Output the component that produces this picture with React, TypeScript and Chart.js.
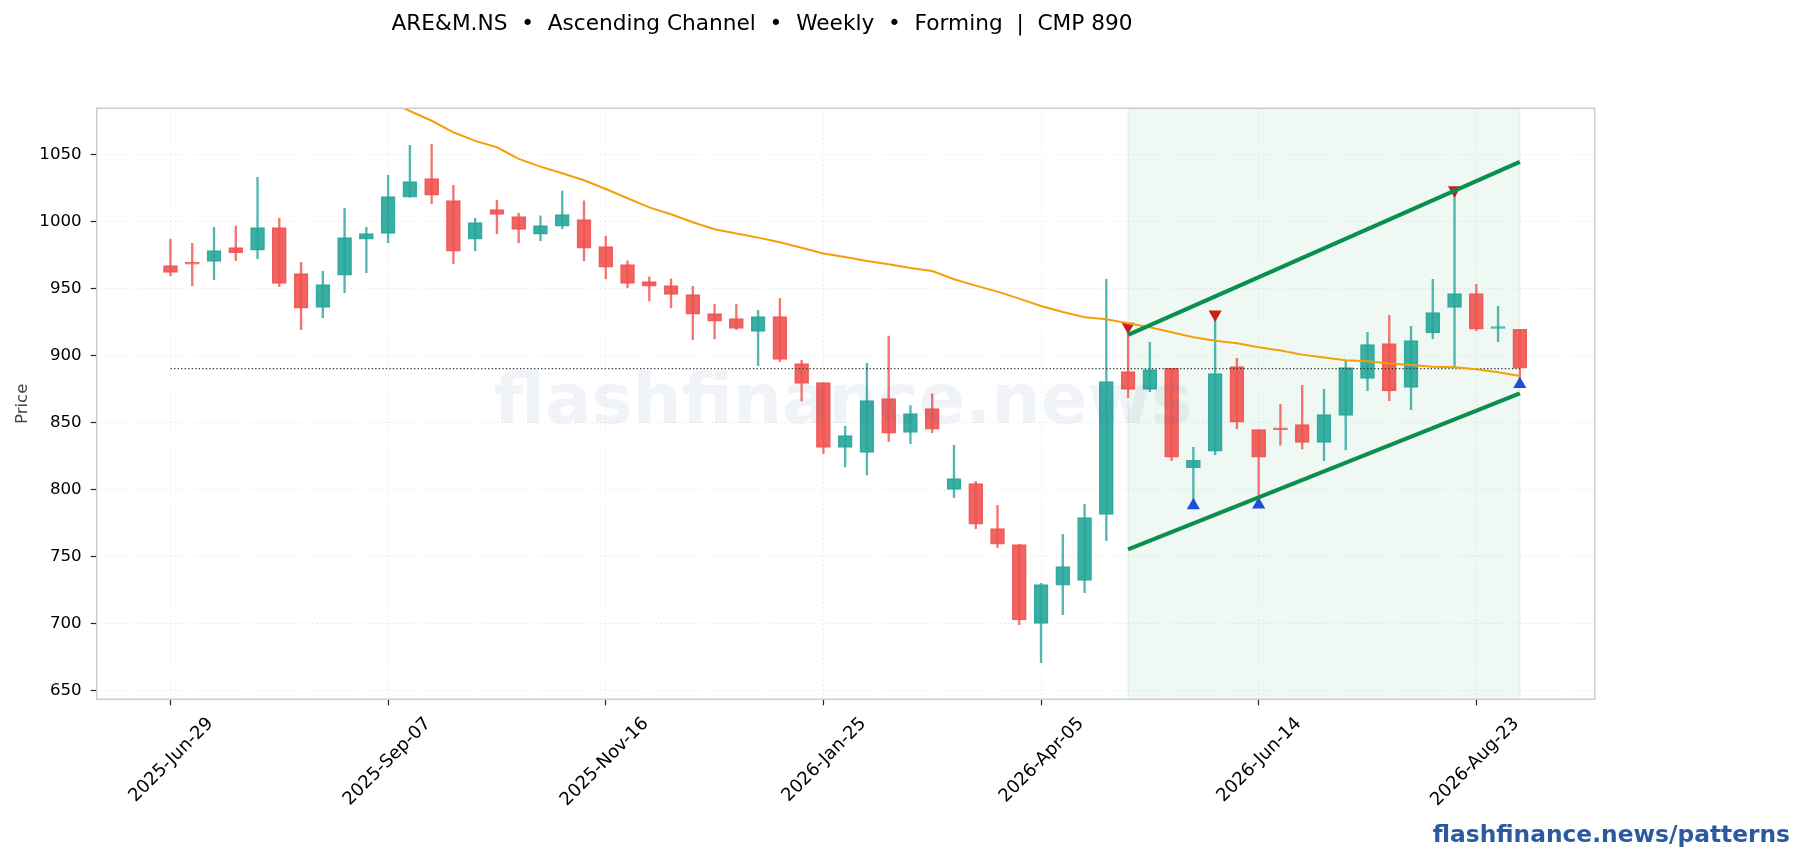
import { useEffect, useRef } from "react";
import { Chart, registerables } from "chart.js";

Chart.register(...registerables);

const FONT = "'DejaVu Sans', sans-serif";
const TEAL = "rgba(38,166,154,0.9)";
const RED = "rgba(239,83,80,0.9)";
const TEAL_WICK = "rgba(38,166,154,0.8)";
const RED_WICK = "rgba(239,83,80,0.8)";

// weekly candles
const opens = [
  966.9, 969.4, 970.1, 980.3, 978.4, 995.3, 960.9, 935.8, 959.7, 986.6, 991.0,
  1017.9, 1031.8, 1015.4, 986.6, 1008.7, 1003.5, 990.3, 996.3, 1001.2, 981.1,
  967.7, 955.0, 952.0, 945.3, 931.1, 927.4, 917.9, 928.9, 893.8, 879.6, 831.3,
  827.6, 867.7, 842.5, 860.2, 800.0, 804.2, 770.6, 758.7, 700.0, 728.4, 732.0,
  781.3, 887.8, 874.6, 890.3, 816.2, 828.4, 891.5, 844.5, 845.8, 848.3, 835.0,
  855.2, 882.8, 908.7, 876.1, 916.7, 935.8, 946.0, 920.1, 919.4,
];
const highs = [
  986.8, 983.6, 995.5, 996.5, 1032.8, 1002.2, 969.4, 962.7, 1009.7, 995.5,
  1034.3, 1056.7, 1057.5, 1026.9, 1002.2, 1015.7, 1006.0, 1004.0, 1022.6,
  1015.2, 989.0, 970.4, 958.5, 957.0, 951.5, 938.0, 938.0, 933.6, 942.5, 896.3,
  879.6, 847.0, 894.0, 914.4, 862.5, 871.3, 832.8, 806.0, 788.0, 758.9, 729.9,
  766.4, 788.8, 956.7, 922.0, 909.7, 890.3, 831.3, 929.0, 897.8, 844.5, 863.4,
  877.6, 874.6, 895.5, 917.2, 929.9, 921.6, 956.7, 1023.0, 953.0, 936.6, 919.4,
];
const lows = [
  959.5, 952.0, 956.5, 970.6, 972.1, 951.2, 919.2, 928.1, 946.8, 961.7, 984.0,
  1017.9, 1013.2, 968.4, 978.1, 990.8, 984.1, 985.6, 994.5, 970.6, 957.0, 950.2,
  940.5, 935.3, 911.7, 912.2, 919.2, 892.3, 895.3, 865.9, 826.6, 816.7, 810.7,
  835.6, 834.0, 842.3, 793.8, 770.6, 756.5, 699.0, 670.6, 706.5, 722.9, 761.7,
  868.4, 872.9, 821.4, 788.0, 825.9, 845.3, 789.0, 833.0, 830.1, 821.4, 829.4,
  873.6, 866.2, 859.5, 912.4, 891.5, 918.4, 910.2, 880.0,
];
const closes = [
  961.9, 967.9, 978.1, 976.4, 995.3, 953.7, 935.1, 952.7, 987.8, 990.8, 1018.4,
  1029.6, 1019.4, 977.6, 999.0, 1005.2, 994.0, 996.8, 1005.0, 979.9, 965.7,
  953.7, 951.5, 945.5, 930.6, 925.4, 920.1, 928.9, 897.0, 879.1, 831.3, 840.0,
  866.2, 841.8, 856.5, 844.8, 808.0, 773.9, 759.0, 702.5, 728.9, 742.3, 778.9,
  880.4, 874.6, 889.3, 823.9, 821.6, 886.3, 850.0, 823.9, 844.5, 835.0, 855.7,
  890.8, 908.0, 873.4, 910.9, 931.8, 946.0, 919.4, 921.4, 890.3,
];

// moving average, first ten weeks sit above the plot
const maValues = [
  null, null, null, null, null, null, null, null, null, null, 1090.0, 1082.3,
  1075.0, 1066.4, 1060.0, 1055.2, 1046.6, 1040.8, 1035.8, 1030.6, 1024.1,
  1017.2, 1010.4, 1005.2, 999.3, 994.0, 990.8, 987.8, 984.3, 980.3, 975.9,
  973.4, 970.4, 967.9, 965.2, 962.9, 956.7, 952.0, 947.5, 942.3, 936.8, 932.3,
  928.4, 926.9, 923.9, 920.9, 917.2, 913.4, 910.9, 909.0, 906.0, 903.5, 900.5,
  898.3, 896.3, 895.5, 893.8, 892.8, 891.5, 891.0, 889.6, 887.3, 884.6,
];

const channelWeeks = [44, 62];
const channelUpper = [915.2, 1044.3];
const channelLower = [755.2, 871.6];

const swingHighWeeks = [44, 48, 59];
const swingHighValues = [921.5, 930.5, 1023.3];
const swingLowWeeks = [47, 50, 62];
const swingLowValues = [788.0, 788.6, 878.4];

const cmp = 890;

const xTickWeeks = [0, 10, 20, 30, 40, 50, 60];
const xTickLabels = [
  "2025-Jun-29",
  "2025-Sep-07",
  "2025-Nov-16",
  "2026-Jan-25",
  "2026-Apr-05",
  "2026-Jun-14",
  "2026-Aug-23",
];
const yTicks = [650, 700, 750, 800, 850, 900, 950, 1000, 1050];

const X_MIN = -3.39;
const X_MAX = 65.44;
const Y_MIN = 643.3;
const Y_MAX = 1084.3;

const weeks = opens.map((_, i) => i);
const isUp = (i: number) => closes[i] >= opens[i];

// title, watermark, footer and the box round the axes
const decorPlugin = {
  id: "decor",
  afterDatasetsDraw(chart: any) {
    const { ctx, chartArea } = chart;
    ctx.save();
    ctx.fillStyle = "rgba(44,90,160,0.07)";
    ctx.font = `bold 69px ${FONT}`;
    ctx.textAlign = "center";
    ctx.textBaseline = "alphabetic";
    ctx.fillText("flashfinance.news", 843, 423);
    ctx.restore();

    ctx.save();
    ctx.strokeStyle = "#cccccc";
    ctx.lineWidth = 1.5;
    ctx.strokeRect(
      chartArea.left,
      chartArea.top,
      chartArea.right - chartArea.left,
      chartArea.bottom - chartArea.top,
    );
    ctx.restore();
  },
  afterDraw(chart: any) {
    const { ctx } = chart;
    ctx.save();
    ctx.textBaseline = "alphabetic";
    ctx.fillStyle = "#000000";
    ctx.font = `21.67px ${FONT}`;
    ctx.textAlign = "left";
    ctx.fillText(
      `ARE&M.NS  •  Ascending Channel  •  Weekly  •  Forming  |  CMP ${cmp}`,
      391.5,
      29.5,
    );
    ctx.fillStyle = "#2c5aa0";
    ctx.font = `bold 23.33px ${FONT}`;
    ctx.textAlign = "right";
    ctx.fillText("flashfinance.news/patterns", 1790, 842);
    ctx.restore();
  },
};

const App = () => {
  const canvasRef = useRef<HTMLCanvasElement>(null);

  useEffect(() => {
    if (!canvasRef.current) return;

    const chart = new Chart(canvasRef.current, {
      type: "bar",
      plugins: [decorPlugin],
      data: {
        datasets: [
          {
            type: "line",
            label: "zone",
            order: 11,
            data: channelWeeks.map((x) => ({ x, y: Y_MAX })),
            borderWidth: 0,
            pointRadius: 0,
            fill: "start",
            backgroundColor: "rgba(11,143,77,0.065)",
          },
          {
            type: "line",
            label: "zone edge",
            order: 10,
            data: [
              { x: channelWeeks[0], y: Y_MIN },
              { x: channelWeeks[0], y: Y_MAX },
              { x: channelWeeks[1], y: Y_MAX },
              { x: channelWeeks[1], y: Y_MIN },
            ],
            borderColor: "rgba(11,143,77,0.08)",
            borderWidth: 1.3,
            pointRadius: 0,
          },
          {
            label: "wicks",
            order: 9,
            grouped: false,
            barThickness: 1.7,
            borderWidth: 0,
            data: weeks.map((x) => ({ x, y: [lows[x], highs[x]] })),
            backgroundColor: weeks.map((i) => (isUp(i) ? TEAL_WICK : RED_WICK)),
          },
          {
            label: "bodies",
            order: 8,
            grouped: false,
            barThickness: 14,
            borderWidth: 1,
            borderSkipped: false,
            data: weeks.map((x) => ({ x, y: [opens[x], closes[x]] })),
            backgroundColor: weeks.map((i) => (isUp(i) ? TEAL : RED)),
            borderColor: weeks.map((i) => (isUp(i) ? TEAL : RED)),
          },
          {
            type: "line",
            label: "cmp",
            order: 7,
            data: [
              { x: weeks[0], y: cmp },
              { x: weeks[weeks.length - 1], y: cmp },
            ],
            borderColor: "#333333",
            borderWidth: 1.33,
            borderDash: [1.33, 2.2],
            pointRadius: 0,
          },
          {
            type: "line",
            label: "swing highs",
            order: 6,
            showLine: false,
            data: swingHighWeeks.map((x, i) => ({ x, y: swingHighValues[i] })),
            pointStyle: "triangle",
            rotation: 180,
            pointRadius: 7.6,
            pointBorderWidth: 0,
            pointBackgroundColor: "#c81e1e",
          },
          {
            type: "line",
            label: "swing lows",
            order: 6,
            showLine: false,
            data: swingLowWeeks.map((x, i) => ({ x, y: swingLowValues[i] })),
            pointStyle: "triangle",
            pointRadius: 7.6,
            pointBorderWidth: 0,
            pointBackgroundColor: "#1d4ed8",
          },
          {
            type: "line",
            label: "MA",
            order: 5,
            data: maValues.map((y, x) => ({ x, y })),
            borderColor: "#f59e0b",
            borderWidth: 2,
            pointRadius: 0,
          },
          {
            type: "line",
            label: "upper",
            order: 4,
            data: channelWeeks.map((x, i) => ({ x, y: channelUpper[i] })),
            borderColor: "#0b8f4d",
            borderWidth: 4.2,
            pointRadius: 0,
          },
          {
            type: "line",
            label: "lower",
            order: 4,
            data: channelWeeks.map((x, i) => ({ x, y: channelLower[i] })),
            borderColor: "#0b8f4d",
            borderWidth: 4.2,
            pointRadius: 0,
          },
        ] as any,
      },
      options: {
        responsive: false,
        animation: false,
        layout: { padding: { left: 0, top: 108.3, right: 209.3, bottom: 0 } },
        plugins: {
          legend: { display: false },
          tooltip: { enabled: false },
        },
        scales: {
          x: {
            type: "linear",
            min: X_MIN,
            max: X_MAX,
            offset: false,
            afterBuildTicks: (scale: any) => {
              scale.ticks = xTickWeeks.map((value) => ({ value }));
            },
            afterFit: (scale: any) => {
              scale.height = 160.7;
              scale.paddingLeft = 0;
              scale.paddingRight = 0;
            },
            grid: {
              offset: false,
              color: "rgba(0,0,0,0.12)",
              tickColor: "#222222",
              tickLength: 6,
              tickWidth: 1.2,
            },
            border: { display: false, dash: [1.1, 3.2] },
            ticks: {
              autoSkip: false,
              minRotation: 45,
              maxRotation: 45,
              labelOffset: 40,
              padding: 8,
              color: "#000000",
              font: { family: FONT, size: 18 },
              callback: (value: any) =>
                xTickLabels[xTickWeeks.indexOf(Number(value))],
            },
          },
          y: {
            min: Y_MIN,
            max: Y_MAX,
            afterBuildTicks: (scale: any) => {
              scale.ticks = yTicks.map((value) => ({ value }));
            },
            afterFit: (scale: any) => {
              scale.width = 96.7;
              scale.paddingTop = 0;
              scale.paddingBottom = 0;
            },
            title: {
              display: true,
              text: "Price",
              color: "#444444",
              font: { family: FONT, size: 16.67 },
              padding: { top: 13, bottom: 0 },
            },
            grid: {
              color: "rgba(0,0,0,0.12)",
              tickColor: "#222222",
              tickLength: 6,
              tickWidth: 1.2,
            },
            border: { display: false, dash: [1.1, 3.2] },
            ticks: {
              padding: 9,
              color: "#000000",
              font: { family: FONT, size: 16.67 },
              callback: (value: any) => String(value),
            },
          },
        },
      },
    });

    return () => chart.destroy();
  }, []);

  return (
    <div style={{ position: "absolute", left: 0, top: 0, width: 1804, height: 860 }}>
      <canvas ref={canvasRef} width={1804} height={860} style={{ display: "block" }} />
    </div>
  );
};

export default App;
